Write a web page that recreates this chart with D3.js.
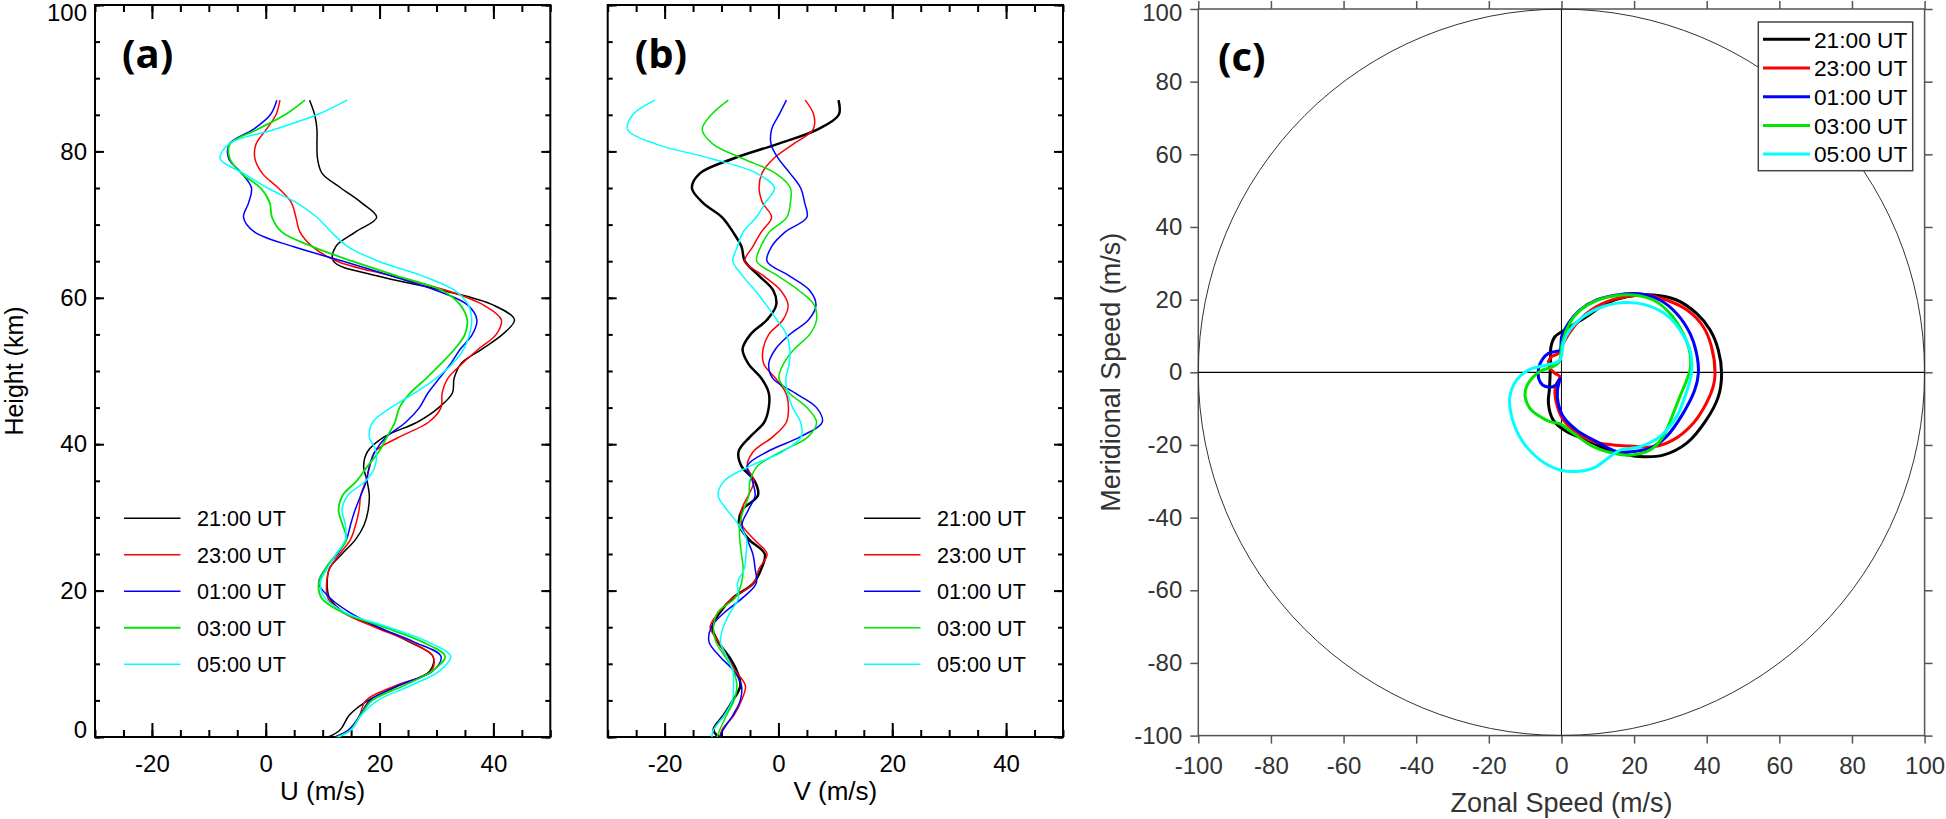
<!DOCTYPE html>
<html>
<head>
<meta charset="utf-8">
<script src="https://cdnjs.cloudflare.com/ajax/libs/d3/7.8.5/d3.min.js"></script>
<style>
  body { margin: 0; background: #fff; }
  svg  { display: block; }
  text { font-family: "Liberation Sans", Arial, Helvetica, sans-serif; }
  text.panel-label { font-family: "Open Sans", "Liberation Sans", sans-serif; font-weight: 700; }
</style>
</head>
<body>
<svg id="chart" width="1946" height="819"></svg>
<script>
// ─── Data ─────────────────────────────────────────────────────────────────────
const times  = ['21:00 UT', '23:00 UT', '01:00 UT', '03:00 UT', '05:00 UT'];
const colors = ['#000000', '#ff0000', '#0000ff', '#00e600', '#00ffff'];

// profile heights (km)
const heights = [0, 1, 3, 5, 7, 9, 11, 13, 15, 17, 19, 21, 23, 25, 27, 29, 31, 33, 35, 37, 39, 41,
                 43, 45, 47, 49, 51, 53, 55, 57, 59, 61, 63, 65, 67, 69, 71, 73, 75, 77, 79, 81, 83, 85, 87];

// zonal wind U (m/s)
const u2100 = [11.0, 13.1, 14.7, 18.0, 23.3, 28.8, 29.4, 25.2, 19.7, 13.8, 11.2, 10.8, 11.2, 13.4, 15.8,
               17.3, 18.0, 18.2, 17.8, 17.2, 17.9, 20.8, 26.6, 30.4, 32.8, 33.1, 34.3, 38.0, 41.6, 43.7,
               40.0, 31.2, 19.5, 11.9, 12.3, 15.8, 19.5, 16.8, 13.2, 9.9, 9.1, 9.0, 9.0, 8.6, 7.7];
const u2300 = [12.2, 14.8, 16.5, 17.6, 22.8, 29.1, 29.4, 25.4, 19.2, 13.6, 10.9, 10.7, 11.2, 13.0, 14.9,
               15.8, 16.4, 16.7, 17.6, 18.3, 19.2, 23.5, 28.6, 30.8, 31.0, 32.0, 34.5, 37.4, 40.5, 41.4,
               38.3, 31.8, 22.0, 12.5, 8.2, 6.0, 5.3, 4.5, 2.2, -0.6, -1.9, -1.7, 0.1, 1.8, 2.5];
const u0100 = [12.2, 14.6, 16.6, 18.3, 23.2, 29.3, 30.8, 26.0, 19.8, 14.8, 11.3, 9.3, 10.5, 12.6, 14.2,
               14.9, 15.7, 16.7, 17.7, 18.2, 19.2, 21.2, 24.6, 27.0, 28.5, 30.5, 32.5, 34.2, 36.3, 37.1,
               35.5, 30.0, 22.0, 13.6, 4.8, -2.0, -3.9, -3.0, -2.5, -4.2, -6.5, -6.4, -2.2, 0.8, 1.95];
const u0300 = [12.5, 15.0, 16.7, 18.7, 24.2, 29.2, 31.5, 27.5, 20.8, 13.5, 9.8, 9.3, 10.5, 12.4, 14.2,
               13.5, 12.8, 13.5, 16.0, 17.9, 19.9, 21.3, 22.7, 23.5, 25.4, 28.2, 30.8, 33.2, 35.0, 35.4,
               34.2, 31.0, 23.0, 15.2, 8.2, 2.8, 1.1, 0.7, -0.9, -4.3, -6.3, -6.3, -1.5, 3.4, 6.9];
const u0500 = [12.8, 15.0, 16.8, 19.7, 25.4, 30.5, 32.5, 28.5, 21.6, 14.0, 10.4, 9.6, 10.8, 12.4, 14.0,
               14.0, 13.4, 14.4, 17.6, 19.2, 19.4, 18.2, 18.8, 22.0, 26.2, 29.9, 32.8, 34.8, 35.8, 36.2,
               35.6, 33.2, 27.5, 19.8, 14.4, 11.5, 9.0, 5.4, 0.3, -3.9, -8.0, -6.5, 1.5, 9.0, 14.3];

// meridional wind V (m/s)
const v2100 = [-10.5, -11.4, -9.6, -8.0, -6.7, -7.3, -8.7, -10.6, -11.6, -10.3, -8.0, -4.4, -3.0, -2.4, -5.2,
               -6.9, -6.4, -3.6, -4.2, -6.5, -7.0, -5.0, -2.5, -1.7, -1.7, -3.0, -5.3, -6.3, -4.9, -2.0,
               -0.4, -0.9, -3.4, -5.9, -6.5, -8.0, -9.9, -13.3, -15.2, -13.8, -8.0, -0.2, 6.9, 10.6, 10.55];
const v2300 = [-10.3, -9.9, -7.8, -6.5, -5.8, -7.5, -9.1, -10.5, -12.0, -10.5, -8.0, -4.4, -3.4, -2.0, -4.3,
               -6.4, -6.5, -5.3, -4.3, -5.5, -4.4, -1.0, 1.4, 1.76, 1.3, -0.5, -2.6, -2.7, -1.7, 0.8,
               1.7, 0.4, -2.6, -5.9, -4.5, -3.0, -1.2, -2.8, -3.4, -2.9, -0.9, 2.6, 6.1, 6.2, 4.7];
const v0100 = [-10.3, -9.7, -8.0, -6.7, -6.5, -7.8, -10.3, -12.2, -11.8, -9.5, -6.3, -3.9, -4.1, -4.5, -5.5,
               -6.4, -5.3, -4.1, -4.6, -5.5, -1.9, 3.8, 7.7, 6.7, 2.9, -1.0, -1.7, -0.5, 2.0, 5.3,
               6.6, 5.5, 1.9, -2.0, -1.2, 1.2, 5.0, 4.6, 3.9, 2.05, 0.0, -1.3, -1.2, 0.1, 1.4];
const v0300 = [-10.8, -10.3, -9.1, -7.8, -7.3, -7.9, -9.4, -11.0, -11.4, -10.7, -7.6, -6.5, -6.2, -6.5, -6.8,
               -6.8, -6.15, -5.2, -5.0, -3.7, 0.5, 5.2, 6.7, 5.0, 1.9, 0.1, 0.9, 2.8, 5.5, 6.7,
               6.3, 3.6, -0.1, -3.8, -3.1, -1.6, 1.47, 2.1, 2.1, -0.5, -6.2, -11.5, -13.4, -11.8, -8.8];
const v0500 = [-11.7, -11.4, -9.5, -8.1, -7.9, -8.0, -9.1, -10.2, -9.7, -8.5, -7.0, -7.2, -6.0, -5.7, -5.6,
               -7.0, -9.0, -10.6, -9.5, -5.0, 0.8, 4.0, 3.9, 2.5, 1.6, 1.3, 1.9, 2.0, 1.4, -0.3,
               -2.1, -4.1, -6.3, -8.0, -7.2, -6.2, -3.9, -2.3, -0.7, -3.8, -11.7, -21.5, -26.5, -25.6, -21.7];

// hodographs: [zonal, meridional] (m/s)
const hodo2100 = [[44.1, -0.3], [43.2, 6.1], [40.9, 11.7], [37.2, 16.2], [31.7, 19.9], [25.3, 21.3],
  [17.9, 20.8], [12.4, 19.0], [6.9, 15.3], [1.0, 11.7], [-1.8, 9.8], [-2.9, 7.0], [-3.0, 3.5],
  [-3.1, 0.0], [-3.3, -4.5], [-3.6, -8.5], [-2.3, -13.1], [1.4, -16.3], [6.9, -18.6], [11.5, -20.8],
  [16.1, -22.3], [21.6, -23.2], [28.0, -22.8], [34.5, -19.5], [39.9, -13.1], [43.2, -6.7]];
const hodo2300 = [[42.3, -0.3], [41.3, 7.1], [39.0, 12.6], [34.5, 17.2], [28.9, 19.9], [23.4, 21.3],
  [18.9, 21.0], [12.4, 19.4], [6.9, 16.2], [2.8, 11.7], [0.5, 8.0], [-0.9, 5.2], [-2.7, 4.3],
  [-3.6, 2.9], [-3.2, 1.1], [-1.8, -0.3], [-0.4, -1.2], [-1.5, -3.5], [-1.8, -5.8], [-1.1, -9.5],
  [0.5, -13.1], [3.3, -15.9], [8.8, -19.1], [14.3, -20.0], [18.9, -20.3], [25.3, -20.5],
  [30.8, -18.6], [36.3, -14.0], [39.9, -8.5], [41.8, -3.9]];
const hodo0100 = [[37.7, -0.3], [37.2, 5.2], [35.4, 10.7], [31.7, 16.2], [27.1, 19.9], [21.6, 21.6],
  [15.2, 21.3], [9.7, 19.9], [5.1, 17.2], [1.9, 13.5], [0.05, 9.8], [-0.4, 6.1], [-1.8, 5.7],
  [-3.6, 5.2], [-5.2, 3.6], [-6.3, 1.1], [-6.3, -1.6], [-5.2, -3.5], [-3.4, -4.1], [-1.5, -3.5],
  [-0.4, -1.7], [-1.1, -4.9], [-0.9, -8.5], [0.5, -12.2], [4.2, -15.9], [9.7, -19.1], [15.2, -21.8],
  [19.8, -21.8], [24.4, -20.9], [28.9, -17.7], [33.5, -11.3], [36.7, -4.9]];
const hodo0300 = [[35.4, 0.6], [35.4, 5.2], [33.5, 10.7], [29.9, 16.2], [25.3, 19.9], [19.8, 21.3],
  [14.3, 21.0], [8.8, 19.4], [4.2, 16.2], [1.4, 11.7], [0.05, 7.1], [-0.6, 2.9], [-2.7, 1.4],
  [-5.5, 0.5], [-7.9, -1.4], [-9.6, -3.9], [-10.0, -6.7], [-8.7, -9.9], [-5.9, -12.2], [-3.2, -13.6],
  [-0.4, -14.2], [3.3, -16.8], [8.8, -20.5], [14.3, -22.3], [18.9, -22.8], [24.4, -21.4],
  [28.0, -17.7], [30.8, -11.3], [32.6, -6.7], [34.5, -2.1]];
const hodo0500 = [[35.8, -0.3], [35.4, 6.1], [32.6, 11.7], [28.9, 15.8], [23.4, 18.5], [17.9, 19.2],
  [11.5, 18.1], [6.0, 15.3], [2.3, 11.7], [0.5, 8.0], [-0.4, 3.4], [-4.1, 2.0], [-8.7, 0.8],
  [-12.3, -2.1], [-14.2, -6.7], [-13.7, -12.2], [-11.0, -18.6], [-5.9, -24.1], [-0.4, -26.9],
  [4.2, -27.3], [8.8, -26.4], [13.4, -23.2], [16.1, -21.4], [21.6, -20.5], [27.1, -17.7],
  [31.7, -12.2], [34.0, -6.7]];

const uSeries = [u2100, u2300, u0100, u0300, u0500];
const vSeries = [v2100, v2300, v0100, v0300, v0500];
const hodoSeries = [hodo2100, hodo2300, hodo0100, hodo0300, hodo0500];

// ─── Setup ────────────────────────────────────────────────────────────────────
const svg = d3.select('#chart');
const PANEL_TOP = 5, PANEL_BOTTOM = 737, PANEL_W = 455.3;

function cleanAxis(sel, color, width) {
  sel.select('.domain').remove();
  sel.selectAll('.tick line').attr('stroke', color).attr('stroke-width', width);
  sel.selectAll('.tick text').attr('font-size', 24).attr('fill', color === '#000' ? '#000' : '#333');
}

// ─── Profile panels (a) and (b) ───────────────────────────────────────────────
function drawProfile(left, series, widths, legendWidths, label, xTitle, legendLineX) {
  const x = d3.scaleLinear().domain([-30, 50]).range([left, left + PANEL_W]);
  const y = d3.scaleLinear().domain([0, 100]).range([PANEL_BOTTOM, PANEL_TOP]);
  const g = svg.append('g');

  const minorX = d3.range(-30, 51, 5), majorX = [-20, 0, 20, 40];
  const minorY = d3.range(0, 101, 5),  majorY = [0, 20, 40, 60, 80, 100];

  // inward ticks on all four sides
  g.append('g').attr('transform', `translate(0,${PANEL_BOTTOM})`)
    .call(d3.axisBottom(x).tickValues(minorX).tickSize(-7).tickFormat('')).call(cleanAxis, '#000', 2);
  g.append('g').attr('transform', `translate(0,${PANEL_BOTTOM})`)
    .call(d3.axisBottom(x).tickValues(majorX).tickSize(-14).tickPadding(18).tickFormat(String))
    .call(cleanAxis, '#000', 2);
  g.append('g').attr('transform', `translate(0,${PANEL_TOP})`)
    .call(d3.axisTop(x).tickValues(minorX).tickSize(-7).tickFormat('')).call(cleanAxis, '#000', 2);
  g.append('g').attr('transform', `translate(0,${PANEL_TOP})`)
    .call(d3.axisTop(x).tickValues(majorX).tickSize(-14).tickFormat('')).call(cleanAxis, '#000', 2);

  g.append('g').attr('transform', `translate(${left},0)`)
    .call(d3.axisLeft(y).tickValues(minorY).tickSize(-5).tickFormat('')).call(cleanAxis, '#000', 2);
  const yAx = g.append('g').attr('transform', `translate(${left},0)`)
    .call(d3.axisLeft(y).tickValues(majorY).tickSize(-9).tickPadding(8)
      .tickFormat(label === '(a)' ? String : ''))
    .call(cleanAxis, '#000', 2);
  // end labels pulled inside the frame
  yAx.selectAll('.tick text').attr('dy', d => d === 100 ? '0.65em' : d === 0 ? '0.03em' : '0.32em');

  g.append('g').attr('transform', `translate(${left + PANEL_W},0)`)
    .call(d3.axisRight(y).tickValues(minorY).tickSize(-5).tickFormat('')).call(cleanAxis, '#000', 2);
  g.append('g').attr('transform', `translate(${left + PANEL_W},0)`)
    .call(d3.axisRight(y).tickValues(majorY).tickSize(-9).tickFormat('')).call(cleanAxis, '#000', 2);

  g.append('rect')
    .attr('x', left).attr('y', PANEL_TOP)
    .attr('width', PANEL_W).attr('height', PANEL_BOTTOM - PANEL_TOP)
    .attr('fill', 'none').attr('stroke', '#000').attr('stroke-width', 2);

  // profiles
  const line = d3.line()
    .x(d => x(d.v))
    .y(d => y(d.h))
    .curve(d3.curveCatmullRom.alpha(0.5));

  series.forEach((vals, i) => {
    g.append('path')
      .datum(heights.map((h, k) => ({ h, v: vals[k] })))
      .attr('d', line)
      .attr('fill', 'none')
      .attr('stroke', colors[i])
      .attr('stroke-width', widths[i])
      .attr('stroke-linejoin', 'round');
  });

  // legend
  times.forEach((t, i) => {
    const ly = 518.3 + i * 36.5;
    g.append('line')
      .attr('x1', legendLineX).attr('x2', legendLineX + 56.5)
      .attr('y1', ly).attr('y2', ly)
      .attr('stroke', colors[i]).attr('stroke-width', legendWidths[i]);
    g.append('text')
      .attr('x', legendLineX + 73).attr('y', ly + 7.8)
      .attr('font-size', 21.6)
      .text(t);
  });

  g.append('text')
    .attr('x', left + PANEL_W / 2).attr('y', 800)
    .attr('text-anchor', 'middle')
    .attr('font-size', 26)
    .text(xTitle);

  g.append('text')
    .attr('class', 'panel-label')
    .attr('x', left + 27).attr('y', 68)
    .attr('font-size', 40)
    .text(label);
}

drawProfile(95, uSeries, [1.5, 1.5, 1.5, 1.8, 1.5], [1.5, 1.5, 1.5, 2, 1.5], '(a)', 'U (m/s)', 124);
drawProfile(607.7, vSeries, [2.5, 1.5, 1.5, 1.5, 1.5], [1.6, 1.5, 1.5, 1.5, 1.5], '(b)', 'V (m/s)', 864);

svg.append('text')
  .attr('transform', `translate(23,${(PANEL_TOP + PANEL_BOTTOM) / 2}) rotate(-90)`)
  .attr('text-anchor', 'middle')
  .attr('font-size', 25)
  .text('Height (km)');

// ─── Hodograph panel (c) ──────────────────────────────────────────────────────
(function drawHodograph() {
  const x = d3.scaleLinear().domain([-100, 100]).range([1198.3, 1924.6]);
  const y = d3.scaleLinear().domain([-100, 100]).range([735.6, 9]);
  const g = svg.append('g');
  const tv = d3.range(-100, 101, 20);
  const axColor = '#555';

  g.append('g').attr('transform', `translate(0,${y(-100)})`)
    .call(d3.axisBottom(x).tickValues(tv).tickSize(8).tickPadding(13).tickFormat(String))
    .call(cleanAxis, axColor, 1.5);
  g.append('g').attr('transform', `translate(0,${y(100)})`)
    .call(d3.axisTop(x).tickValues(tv).tickSize(8).tickFormat(''))
    .call(cleanAxis, axColor, 1.5);
  g.append('g').attr('transform', `translate(${x(-100)},0)`)
    .call(d3.axisLeft(y).tickValues(tv).tickSize(8).tickPadding(8).tickFormat(String))
    .call(cleanAxis, axColor, 1.5)
    .selectAll('.tick text').attr('dy', d => d === 100 ? '0.47em' : '0.32em');
  g.append('g').attr('transform', `translate(${x(100)},0)`)
    .call(d3.axisRight(y).tickValues(tv).tickSize(8).tickFormat(''))
    .call(cleanAxis, axColor, 1.5);

  g.append('rect')
    .attr('x', x(-100)).attr('y', y(100))
    .attr('width', x(100) - x(-100)).attr('height', y(-100) - y(100))
    .attr('fill', 'none').attr('stroke', axColor).attr('stroke-width', 1.5);

  // zero lines and 100 m/s circle
  g.append('line').attr('x1', x(-100)).attr('x2', x(100)).attr('y1', y(0)).attr('y2', y(0))
    .attr('stroke', '#000').attr('stroke-width', 1.2);
  g.append('line').attr('x1', x(0)).attr('x2', x(0)).attr('y1', y(100)).attr('y2', y(-100))
    .attr('stroke', '#000').attr('stroke-width', 1);
  g.append('circle')
    .attr('cx', x(0)).attr('cy', y(0)).attr('r', x(100) - x(0))
    .attr('fill', 'none').attr('stroke', '#333').attr('stroke-width', 1);

  const line = d3.line()
    .x(d => x(d[0]))
    .y(d => y(d[1]))
    .curve(d3.curveCatmullRomClosed.alpha(0.5));

  hodoSeries.forEach((pts, i) => {
    g.append('path')
      .datum(pts)
      .attr('d', line)
      .attr('fill', 'none')
      .attr('stroke', colors[i])
      .attr('stroke-width', 3)
      .attr('stroke-linejoin', 'round');
  });

  // legend box
  g.append('rect')
    .attr('x', 1758.3).attr('y', 22)
    .attr('width', 154.4).attr('height', 148.7)
    .attr('fill', '#fff').attr('stroke', '#444').attr('stroke-width', 1.5);
  times.forEach((t, i) => {
    const ly = 39.3 + i * 28.7;
    g.append('line')
      .attr('x1', 1763).attr('x2', 1810).attr('y1', ly).attr('y2', ly)
      .attr('stroke', colors[i]).attr('stroke-width', 3);
    g.append('text')
      .attr('x', 1814).attr('y', ly + 8.2)
      .attr('font-size', 22.7)
      .text(t);
  });

  g.append('text')
    .attr('x', x(0)).attr('y', 812)
    .attr('text-anchor', 'middle')
    .attr('font-size', 27)
    .attr('fill', '#333')
    .text('Zonal Speed (m/s)');

  g.append('text')
    .attr('transform', `translate(1120,${y(0)}) rotate(-90)`)
    .attr('text-anchor', 'middle')
    .attr('font-size', 27)
    .attr('fill', '#333')
    .text('Meridional Speed (m/s)');

  g.append('text')
    .attr('class', 'panel-label')
    .attr('x', 1218).attr('y', 71)
    .attr('font-size', 40)
    .text('(c)');
})();
</script>
</body>
</html>
